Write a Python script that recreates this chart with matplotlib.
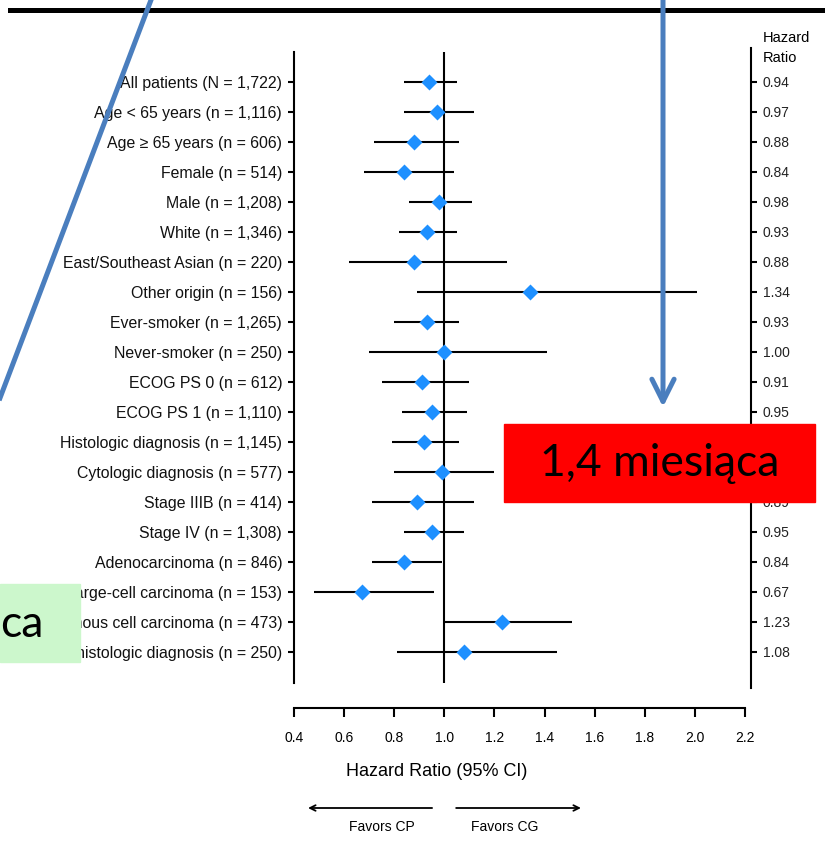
import matplotlib.pyplot as plt
import matplotlib.transforms as mtransforms
from matplotlib.lines import Line2D
from matplotlib.patches import Rectangle, FancyArrowPatch

# subgroups, hazard ratios and 95% CI bounds
labels = [
    "All patients (N = 1,722)",
    "Age < 65 years (n = 1,116)",
    "Age \u2265 65 years (n = 606)",
    "Female (n = 514)",
    "Male (n = 1,208)",
    "White (n = 1,346)",
    "East/Southeast Asian (n = 220)",
    "Other origin (n = 156)",
    "Ever-smoker (n = 1,265)",
    "Never-smoker (n = 250)",
    "ECOG PS 0 (n = 612)",
    "ECOG PS 1 (n = 1,110)",
    "Histologic diagnosis (n = 1,145)",
    "Cytologic diagnosis (n = 577)",
    "Stage IIIB (n = 414)",
    "Stage IV (n = 1,308)",
    "Adenocarcinoma (n = 846)",
    "Large-cell carcinoma (n = 153)",
    "Squamous cell carcinoma (n = 473)",
    "Other histologic diagnosis (n = 250)",
]
hr = [0.94, 0.97, 0.88, 0.84, 0.98, 0.93, 0.88, 1.34, 0.93, 1.00,
      0.91, 0.95, 0.92, 0.99, 0.89, 0.95, 0.84, 0.67, 1.23, 1.08]
ci_low = [0.84, 0.84, 0.72, 0.68, 0.86, 0.82, 0.62, 0.89, 0.80, 0.70,
          0.75, 0.83, 0.79, 0.80, 0.71, 0.84, 0.71, 0.48, 1.00, 0.81]
ci_high = [1.05, 1.12, 1.06, 1.04, 1.11, 1.05, 1.25, 2.01, 1.06, 1.41,
           1.10, 1.09, 1.06, 1.20, 1.12, 1.08, 0.99, 0.96, 1.51, 1.45]
xticks = [0.4, 0.6, 0.8, 1.0, 1.2, 1.4, 1.6, 1.8, 2.0, 2.2]

W, H = 827, 843
NARROW = ["Liberation Sans", "DejaVu Sans"]
SLIDE = ["Lato", "DejaVu Sans"]
BLUE = "#4A7EBE"


def fx(px):
    return px / W


def fy(py):
    return 1 - py / H


fig = plt.figure(figsize=(W / 100, H / 100), dpi=100)
ax = fig.add_axes([fx(294), fy(708), fx(751) - fx(294), fy(48) - fy(708)])
rows = list(range(len(labels)))

ax.set_xlim(0.4, 0.4 + (751 - 294) / 250.6)
ax.set_ylim(20.87, -1.13)

ax.hlines(rows, ci_low, ci_high, color="black", lw=1.5)
ax.vlines(1.0, -1.0, 20.03, color="black", lw=1.5)
ax.plot(hr, rows, "D", color="#1E90FF", ms=8.5, mec="none", zorder=3)

for side in ["top", "right"]:
    ax.spines[side].set_visible(False)
ax.spines["left"].set_bounds(-1.0, 20.03)
ax.spines["bottom"].set_bounds(0.4, 2.2)
for side in ["left", "bottom"]:
    ax.spines[side].set_linewidth(1.5)

ax.set_yticks(rows, labels, fontsize=11.4, family=NARROW, color="#111111")
ax.tick_params(axis="y", direction="out", length=4.5, width=1.5, pad=4)
ax.set_xticks(xticks, [f"{v:.1f}" for v in xticks], fontsize=10, family=NARROW)
ax.tick_params(axis="x", direction="out", length=6.5, width=1.5, pad=10)

# right-hand column with the hazard ratios
ax2 = ax.twinx()
ax2.set_ylim(ax.get_ylim())
ax2.set_yticks(rows, [f"{v:.2f}" for v in hr], fontsize=10, family=NARROW, color="#222222")
ax2.tick_params(axis="y", direction="out", length=4.5, width=1.5, pad=4)
for side in ["top", "left", "bottom"]:
    ax2.spines[side].set_visible(False)
ax2.spines["right"].set_bounds(-1.13, 20.2)
ax2.spines["right"].set_linewidth(1.5)

fig.text(fx(763), fy(37.5), "Hazard", va="center", fontsize=10.5, family=NARROW)
fig.text(fx(763), fy(57.5), "Ratio", va="center", fontsize=10.5, family=NARROW)

# x label and the favors arrows below the axis
trans = mtransforms.blended_transform_factory(ax.transData, fig.transFigure)
ax.text(0.97, fy(772), "Hazard Ratio (95% CI)", transform=trans, ha="center",
        va="center", fontsize=13, family=NARROW)
ax.annotate("", xy=(0.456, fy(808)), xytext=(0.951, fy(808)), xycoords=trans,
            textcoords=trans, annotation_clip=False,
            arrowprops=dict(arrowstyle="->", lw=1.3, color="black", shrinkA=0, shrinkB=0))
ax.annotate("", xy=(1.545, fy(808)), xytext=(1.047, fy(808)), xycoords=trans,
            textcoords=trans, annotation_clip=False,
            arrowprops=dict(arrowstyle="->", lw=1.3, color="black", shrinkA=0, shrinkB=0))
ax.text(0.751, fy(827), "Favors CP", transform=trans, ha="center", va="center",
        fontsize=10, family=NARROW)
ax.text(1.242, fy(827), "Favors CG", transform=trans, ha="center", va="center",
        fontsize=10, family=NARROW)

# slide overlays
fig.add_artist(Line2D([fx(10), fx(822)], [fy(10), fy(10)], lw=3.6, color="black", zorder=5))
fig.add_artist(Line2D([fx(151), fx(0)], [fy(0), fy(398)], lw=3.6, color=BLUE, zorder=5))
fig.add_artist(FancyArrowPatch((fx(663), fy(0)), (fx(663), fy(407)),
                               transform=fig.transFigure, arrowstyle="->,head_length=1.0,head_width=0.5",
                               mutation_scale=16, lw=3.6, color=BLUE, shrinkA=0, shrinkB=0, zorder=5))

fig.add_artist(Rectangle((fx(504), fy(502)), fx(815) - fx(504), fy(424) - fy(502),
                         transform=fig.transFigure, color="#FF0000", zorder=6))
fig.text(fx(659.5), fy(463), "1,4 miesi\u0105ca", ha="center", va="center",
         fontsize=32, family=SLIDE, zorder=7)

fig.add_artist(Rectangle((fx(0), fy(662)), fx(80), fy(584) - fy(662),
                         transform=fig.transFigure, color="#CCF7CC", zorder=6))
fig.text(fx(43), fy(637), "ca", ha="right", va="baseline", fontsize=32,
         family=SLIDE, zorder=7)

fig.savefig("out.png", dpi=100)
